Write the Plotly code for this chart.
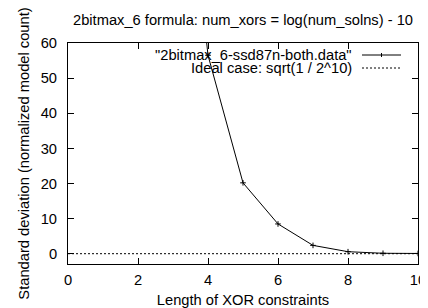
import plotly.graph_objects as go

# Data
xor_len = [3, 4, 5, 6, 7, 8, 9, 10]
std_dev = [150.0, 56.5, 20.2, 8.5, 2.4, 0.6, 0.15, 0.1]
ideal_x = [0, 10]
ideal_val = (1 / 2**10) ** 0.5
ideal_y = [ideal_val, ideal_val]

series_names = ['"2bitmax_6-ssd87n-both.data"', 'Ideal case: sqrt(1 / 2^10)']
title_text = "2bitmax_6 formula: num_xors = log(num_solns) - 10"
x_title = "Length of XOR constraints"
y_title = "Standard deviation (normalized model count)"

FONT = "Liberation Sans"
FS = 14.7

# The page body has an 8px default margin, so the figure is laid out
# 8px smaller than the window and shifted accordingly.
W, H = 420, 300
L, R, T, B = 60, 10, 35, 44
PW, PH = W - L - R, H - T - B

fig = go.Figure()
fig.add_trace(go.Scatter(
    x=xor_len, y=std_dev, mode="lines+markers",
    line=dict(color="black", width=1),
    marker=dict(symbol="cross-thin", size=4, line=dict(color="black", width=1)),
    showlegend=False,
))
fig.add_trace(go.Scatter(
    x=ideal_x, y=ideal_y, mode="lines",
    line=dict(color="black", width=1, dash="2px,2px"),
    showlegend=False,
))

# gnuplot-style key: text on left, sample on right (offsets from plot top-left)
key_rows = [(series_names[0], "solid", True), (series_names[1], "2px,2px", False)]
for i, (name, dash, marker) in enumerate(key_rows):
    dy = 12 + i * 13
    yp = 1 - dy / PH
    fig.add_annotation(
        xref="paper", yref="paper", x=285 / PW, y=yp,
        text=name, showarrow=False, xanchor="right", yanchor="middle",
        font=dict(family=FONT, size=FS, color="black"),
        borderpad=0,
    )
    fig.add_shape(
        type="line", xref="paper", yref="paper",
        x0=294 / PW, x1=333 / PW, y0=yp, y1=yp,
        line=dict(color="black", width=1, dash=dash),
    )
    if marker:
        fig.add_shape(
            type="line", xref="paper", yref="paper",
            x0=313.5 / PW, x1=313.5 / PW,
            y0=yp - 2 / PH, y1=yp + 2 / PH,
            line=dict(color="black", width=1),
        )

fig.update_layout(
    width=W, height=H,
    margin=dict(l=L, r=R, t=T, b=B),
    paper_bgcolor="white", plot_bgcolor="white",
    font=dict(family=FONT, size=FS, color="black"),
    title=dict(text=title_text, xref="paper", x=0.5, xanchor="center",
               y=1 - 12 / H, yanchor="middle",
               font=dict(family=FONT, size=FS, color="black")),
)
fig.update_xaxes(
    range=[0, 10], tickvals=[0, 2, 4, 6, 8, 10], automargin=False,
    ticks="inside", ticklen=6, tickcolor="black", tickwidth=1,
    showline=True, linecolor="black", linewidth=1, mirror="ticks",
    showgrid=False, zeroline=False, ticklabelstandoff=2,
    title=dict(text=x_title, standoff=8, font=dict(family=FONT, size=FS)),
)
fig.update_yaxes(
    range=[-2.9, 60], tickvals=[0, 10, 20, 30, 40, 50, 60], automargin=False,
    ticks="inside", ticklen=6, tickcolor="black", tickwidth=1,
    showline=True, linecolor="black", linewidth=1, mirror="ticks",
    showgrid=False, zeroline=False, ticklabelstandoff=7,
    title=dict(text=y_title, standoff=7, font=dict(family=FONT, size=FS)),
)

fig.write_html("out.html")
